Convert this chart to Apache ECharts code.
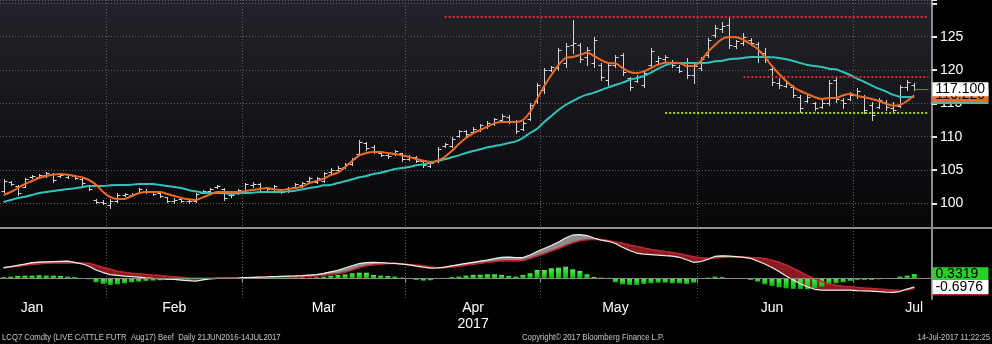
<!DOCTYPE html>
<html>
<head>
<meta charset="utf-8">
<title>LCQ7 Comdty – Live Cattle Aug17</title>
<script src="https://cdn.jsdelivr.net/npm/echarts@6.0.0/dist/echarts.min.js"></script>
<style>
  html, body { margin: 0; padding: 0; background: #000; }
  #chart { width: 992px; height: 344px; }
</style>
</head>
<body>
<div id="chart"></div>
<script>
// ---- Sessions (one bar per trading day), grouped by month ----
const sessionDays = [
  ['2017-01', [10, 11, 12, 13, 17, 18, 19, 20, 23, 24, 25, 26, 27, 30, 31]],
  ['2017-02', [1, 2, 3, 6, 7, 8, 9, 10, 13, 14, 15, 16, 17, 21, 22, 23, 24, 27, 28]],
  ['2017-03', [1, 2, 3, 6, 7, 8, 9, 10, 13, 14, 15, 16, 17, 20, 21, 22, 23, 24, 27, 28, 29, 30, 31]],
  ['2017-04', [3, 4, 5, 6, 7, 10, 11, 12, 13, 17, 18, 19, 20, 21, 24, 25, 26, 27, 28]],
  ['2017-05', [1, 2, 3, 4, 5, 8, 9, 10, 11, 12, 15, 16, 17, 18, 19, 22, 23, 24, 25, 26, 30, 31]],
  ['2017-06', [1, 2, 5, 6, 7, 8, 9, 12, 13, 14, 15, 16, 19, 20, 21, 22, 23, 26, 27, 28, 29, 30]],
  ['2017-07', [3, 5, 6, 7, 10, 11, 12, 13, 14]]
];
// empty sessions kept to the right of the last bar
const blankDays = ['2017-07-17', '2017-07-18'];

// month captions under the lower panel and the session each sits on
const monthLabelDays = ['2017-01-17', '2017-02-14', '2017-03-16', '2017-04-17', '2017-05-15', '2017-06-15', '2017-07-14'];
const monthLabelText = ['Jan', 'Feb', 'Mar', 'Apr\n2017', 'May', 'Jun', 'Jul'];

// ---- Daily bars (Jan .. Jul rows) ----
const opens = [].concat(
  [101.9, 103.2, 102.6, 102.5, 103.9, 104.0, 104.2, 104.4, 104.1, 104.0, 104.1, 103.6, 102.6, 100.5, 100.2],
  [99.8, 100.4, 101.3, 101.3, 101.6, 101.9, 101.7, 101.5, 100.9, 100.3, 100.6, 100.3, 100.4, 101.6, 101.8, 102.4, 102.2, 101.2, 101.5],
  [101.8, 102.8, 102.9, 102.3, 102.2, 101.9, 101.8, 102.4, 102.8, 103.3, 103.2, 103.4, 104.7, 105.0, 105.4, 105.9, 107.4, 109.0, 108.5, 107.6, 107.2, 107.4, 107.5],
  [106.7, 106.9, 106.3, 105.6, 106.3, 108.6, 108.6, 110.1, 110.8, 110.7, 111.0, 111.5, 111.9, 112.5, 113.0, 112.2, 111.2, 112.7, 115.3],
  [117.0, 120.0, 120.3, 121.0, 123.8, 123.8, 122.0, 121.0, 120.8, 118.5, 120.7, 122.3, 118.8, 118.4, 117.8, 120.7, 121.3, 121.6, 121.2, 120.5, 121.0, 119.3],
  [120.3, 122.2, 125.2, 126.2, 126.8, 123.6, 124.0, 124.5, 123.9, 122.5, 120.2, 118.0, 117.6, 117.5, 116.0, 115.4, 115.0, 114.5, 115.0, 118.5, 115.5, 115.7],
  [116.2, 116.0, 114.8, 114.5, 115.2, 114.3, 114.6, 117.5, 117.8]
);
const highs = [].concat(
  [103.65, 103.35, 102.75, 103.8, 104.25, 104.4, 104.7, 104.55, 104.4, 104.4, 104.25, 103.8, 102.75, 100.65, 100.5],
  [100.65, 101.55, 101.55, 101.55, 102.3, 102.15, 101.85, 101.7, 100.95, 100.8, 100.8, 100.5, 101.55, 102.0, 102.3, 102.75, 102.3, 101.55, 102.15],
  [103.05, 103.2, 103.05, 102.45, 102.75, 102.0, 102.45, 103.05, 103.2, 103.95, 103.95, 104.7, 105.3, 105.6, 106.05, 106.8, 109.5, 109.2, 108.75, 107.7, 107.55, 108.0, 107.55],
  [107.25, 107.1, 106.5, 106.2, 108.45, 109.05, 109.95, 111.0, 111.0, 111.45, 111.9, 112.35, 112.8, 113.4, 113.25, 112.5, 112.35, 115.05, 118.05],
  [120.3, 120.6, 123.3, 124.05, 127.5, 124.05, 123.45, 124.95, 121.05, 121.05, 122.25, 122.55, 118.95, 119.25, 120.0, 123.3, 122.1, 122.25, 121.5, 120.75, 121.8, 121.05],
  [122.0, 124.8, 126.75, 127.2, 127.95, 124.5, 125.55, 124.8, 124.2, 123.3, 120.45, 118.8, 118.5, 117.75, 116.25, 116.55, 115.2, 115.5, 118.5, 118.8, 115.8, 116.7],
  [117.3, 116.25, 115.2, 115.8, 115.5, 115.2, 117.75, 118.5, 118.05]
);
const lows = [].concat(
  [101.7, 102.75, 101.25, 102.45, 103.8, 103.8, 103.95, 103.2, 103.95, 103.8, 103.65, 102.75, 102.0, 100.05, 99.9],
  [99.3, 100.2, 101.1, 101.1, 101.55, 101.55, 101.25, 100.95, 100.2, 100.05, 100.2, 100.05, 100.2, 101.55, 101.55, 102.3, 100.5, 100.95, 101.4],
  [101.55, 102.45, 102.0, 102.0, 102.0, 101.55, 101.7, 102.3, 102.45, 103.2, 103.05, 103.2, 104.55, 104.85, 105.3, 105.75, 107.25, 108.0, 107.55, 107.1, 106.8, 107.25, 106.35],
  [106.5, 106.2, 105.45, 105.45, 106.2, 108.45, 108.45, 109.95, 110.1, 110.55, 110.85, 111.3, 111.75, 112.35, 112.05, 110.55, 111.0, 112.5, 115.05],
  [116.55, 119.85, 120.0, 120.45, 122.55, 121.2, 120.75, 120.45, 118.5, 117.75, 120.45, 119.25, 117.0, 118.2, 117.45, 120.45, 121.05, 121.2, 120.45, 119.7, 118.8, 118.05],
  [120.0, 121.95, 124.95, 125.7, 123.3, 123.3, 123.75, 123.75, 121.2, 121.2, 117.75, 117.3, 117.45, 115.95, 113.7, 115.2, 114.0, 114.3, 114.75, 115.2, 114.3, 115.5],
  [115.8, 113.55, 112.5, 114.3, 114.0, 113.7, 114.45, 117.0, 117.0]
);
const closes = [].concat(
  [103.3, 102.9, 101.5, 103.6, 104.1, 104.3, 104.6, 103.5, 104.2, 104.3, 103.8, 103.0, 102.2, 100.2, 100.0],
  [100.4, 101.3, 101.4, 101.4, 102.1, 101.8, 101.4, 101.1, 100.4, 100.5, 100.4, 100.4, 101.4, 101.9, 102.1, 102.6, 100.8, 101.3, 102.0],
  [102.9, 102.9, 102.3, 102.2, 102.6, 101.7, 102.3, 102.9, 103.0, 103.8, 103.8, 104.5, 105.0, 105.3, 105.9, 106.6, 109.2, 108.3, 107.7, 107.3, 107.1, 107.8, 106.6],
  [107.0, 106.4, 105.7, 106.0, 108.2, 108.9, 109.7, 110.8, 110.4, 111.2, 111.7, 112.0, 112.6, 113.1, 112.4, 110.9, 112.0, 114.8, 117.8],
  [120.0, 120.4, 123.0, 123.6, 124.0, 121.6, 123.0, 124.5, 119.0, 120.7, 122.0, 119.7, 117.5, 119.0, 119.6, 122.8, 121.8, 121.9, 120.7, 119.9, 119.3, 120.6],
  [121.7, 124.5, 126.3, 126.6, 123.8, 124.3, 125.0, 124.0, 122.8, 121.6, 118.2, 117.8, 118.0, 116.3, 114.3, 116.0, 114.3, 115.0, 118.0, 115.6, 115.0, 116.3],
  [116.8, 114.0, 113.2, 115.5, 114.4, 114.0, 117.4, 118.2, 117.1]
);

// ---- Moving averages ----
const maFast = [].concat(
  [101.25, 101.7, 102.3, 102.9, 103.35, 103.8, 104.1, 104.3, 104.4, 104.3, 104.1, 103.9, 103.5, 102.8, 101.7],
  [100.95, 100.65, 100.65, 101.1, 101.5, 101.7, 101.7, 101.7, 101.4, 101.1, 100.8, 100.6, 100.5, 100.9, 101.3, 101.7, 101.7, 101.7, 101.7],
  [101.85, 102.0, 102.15, 102.3, 102.1, 102.0, 102.15, 102.3, 102.5, 103.05, 103.35, 103.7, 104.25, 104.6, 105.45, 106.35, 107.2, 107.55, 107.7, 107.7, 107.55, 107.4, 107.2],
  [106.95, 106.65, 106.4, 106.2, 106.4, 106.95, 107.85, 108.9, 109.8, 110.5, 111.0, 111.5, 112.0, 112.2, 112.2, 112.2, 112.5, 113.7, 115.65],
  [117.6, 119.25, 120.75, 121.8, 121.95, 122.25, 122.6, 122.1, 121.5, 121.05, 121.0, 120.3, 119.7, 119.55, 119.8, 120.3, 120.8, 121.1, 121.1, 121.05, 120.6, 120.6],
  [121.35, 122.7, 123.75, 124.65, 124.95, 124.9, 124.5, 123.9, 123.15, 121.95, 120.6, 119.4, 118.35, 117.45, 116.85, 116.4, 115.95, 115.65, 115.8, 115.8, 116.2, 116.4],
  [116.1, 115.9, 115.65, 115.35, 114.95, 114.65, 114.75, 115.35, 116.22]
);
const maSlow = [].concat(
  [100.2, 100.5, 100.8, 101.0, 101.25, 101.55, 101.7, 101.85, 102.0, 102.15, 102.25, 102.4, 102.6, 102.6, 102.6],
  [102.7, 102.75, 102.75, 102.8, 102.9, 102.9, 102.9, 102.75, 102.6, 102.45, 102.3, 102.0, 101.8, 101.6, 101.55, 101.55, 101.5, 101.4, 101.5],
  [101.55, 101.6, 101.7, 101.7, 101.7, 101.7, 101.8, 101.9, 102.1, 102.3, 102.45, 102.7, 102.75, 103.05, 103.3, 103.6, 103.9, 104.1, 104.4, 104.6, 104.85, 105.15, 105.3],
  [105.45, 105.7, 105.85, 106.05, 106.35, 106.6, 106.9, 107.2, 107.55, 107.85, 108.1, 108.4, 108.6, 108.8, 109.05, 109.3, 109.8, 110.55, 111.2],
  [112.2, 113.1, 114.0, 114.75, 115.35, 115.9, 116.3, 116.6, 117.0, 117.4, 117.75, 118.1, 118.5, 118.8, 119.1, 119.6, 120.2, 120.7, 121.0, 121.05, 121.05, 121.05],
  [121.05, 121.1, 121.3, 121.4, 121.6, 121.7, 121.8, 121.95, 121.95, 121.95, 121.9, 121.8, 121.6, 121.35, 121.05, 120.75, 120.6, 120.45, 120.2, 120.1, 119.7, 119.25],
  [118.7, 118.2, 117.7, 117.2, 116.8, 116.3, 116.0, 115.95, 115.95]
);

// ---- MACD panel ----
const macdLine = [].concat(
  [0.85, 0.94, 1.04, 1.14, 1.26, 1.30, 1.32, 1.34, 1.36, 1.38, 1.28, 1.16, 0.96, 0.66, 0.46],
  [0.30, 0.24, 0.18, 0.14, 0.09, 0.04, 0.00, -0.02, -0.06, -0.09, -0.14, -0.18, -0.22, -0.12, -0.04, -0.01, 0.00, 0.00, 0.02],
  [0.05, 0.08, 0.10, 0.11, 0.13, 0.15, 0.17, 0.19, 0.22, 0.26, 0.30, 0.40, 0.52, 0.63, 0.82, 1.00, 1.18, 1.26, 1.27, 1.26, 1.22, 1.19, 1.14],
  [1.08, 0.98, 0.89, 0.82, 0.84, 0.90, 1.00, 1.10, 1.19, 1.28, 1.37, 1.46, 1.58, 1.68, 1.69, 1.66, 1.66, 1.86, 2.14],
  [2.38, 2.62, 2.90, 3.22, 3.46, 3.50, 3.42, 3.22, 3.06, 2.96, 2.78, 2.48, 2.22, 2.02, 1.94, 1.90, 1.86, 1.81, 1.77, 1.68, 1.48, 1.28],
  [1.34, 1.51, 1.76, 1.80, 1.77, 1.74, 1.67, 1.59, 1.38, 1.14, 0.86, 0.54, 0.18, -0.14, -0.43, -0.68, -0.88, -0.94, -0.94, -0.94, -0.94, -0.95],
  [-0.98, -1.00, -1.03, -1.06, -1.10, -1.12, -1.06, -0.86, -0.6976]
);
const signalLine = [].concat(
  [0.82, 0.90, 0.97, 1.04, 1.10, 1.16, 1.21, 1.22, 1.22, 1.22, 1.22, 1.22, 1.20, 1.04, 0.86],
  [0.72, 0.57, 0.48, 0.41, 0.36, 0.31, 0.26, 0.22, 0.17, 0.13, 0.08, 0.03, 0.00, 0.00, 0.00, 0.00, 0.00, 0.01, 0.02],
  [0.03, 0.04, 0.06, 0.07, 0.09, 0.10, 0.11, 0.12, 0.14, 0.16, 0.20, 0.25, 0.32, 0.38, 0.49, 0.66, 0.86, 1.00, 1.08, 1.14, 1.18, 1.19, 1.16],
  [1.11, 1.07, 1.00, 0.90, 0.85, 0.85, 0.90, 0.96, 1.05, 1.13, 1.21, 1.28, 1.34, 1.40, 1.41, 1.40, 1.42, 1.58, 1.78],
  [1.96, 2.18, 2.38, 2.62, 2.84, 3.00, 3.08, 3.13, 3.10, 3.02, 2.90, 2.80, 2.66, 2.54, 2.42, 2.30, 2.22, 2.14, 2.06, 1.96, 1.84, 1.72],
  [1.64, 1.61, 1.63, 1.66, 1.70, 1.72, 1.70, 1.66, 1.63, 1.58, 1.44, 1.28, 1.06, 0.78, 0.50, 0.22, -0.04, -0.26, -0.44, -0.55, -0.63, -0.68],
  [-0.73, -0.78, -0.82, -0.86, -0.90, -0.94, -0.97, -0.92, -0.82]
);
const histogram = [].concat(
  [0.08, 0.13, 0.19, 0.21, 0.21, 0.24, 0.21, 0.21, 0.19, 0.13, 0.08, -0.02, -0.08, -0.32, -0.45],
  [-0.53, -0.48, -0.40, -0.32, -0.27, -0.21, -0.19, -0.16, -0.13, -0.13, -0.13, -0.11, -0.08, -0.05, -0.03, 0.02, 0.02, 0.03, 0.03],
  [0.03, 0.04, 0.04, 0.04, 0.04, 0.05, 0.05, 0.06, 0.07, 0.05, 0.08, 0.13, 0.21, 0.27, 0.32, 0.40, 0.45, 0.45, 0.27, 0.21, 0.19, 0.13, 0.05],
  [-0.03, -0.13, -0.19, -0.16, -0.05, 0.03, 0.08, 0.13, 0.21, 0.27, 0.29, 0.32, 0.32, 0.27, 0.19, 0.13, 0.27, 0.40, 0.67],
  [0.67, 0.80, 0.85, 0.93, 0.72, 0.59, 0.32, 0.11, 0.05, 0.03, -0.32, -0.48, -0.53, -0.53, -0.45, -0.40, -0.35, -0.35, -0.40, -0.40, -0.45, -0.35],
  [-0.05, 0.05, 0.13, 0.08, 0.02, 0.01, -0.01, -0.13, -0.27, -0.48, -0.61, -0.72, -0.80, -0.85, -0.85, -0.88, -0.80, -0.67, -0.48, -0.40, -0.32, -0.21],
  [-0.13, -0.13, -0.13, -0.08, -0.05, -0.01, 0.13, 0.21, 0.3319]
);

// ---- Drawn horizontal levels (start session, price) ----
const levelFrom = ['2017-04-10', '2017-06-09', '2017-05-24'];
const levelValue = [128.0, 118.95, 113.6];

// ---- Axis ranges and tick labels ----
const priceMin = 96.3, priceMax = 130.5;
const priceTickLabels = [100, 105, 110, 115, 120, 125];
const macdMin = -1.656, macdMax = 4.024;

const footerLeft = 'LCQ7 Comdty (LIVE CATTLE FUTR  Aug17) Beef  Daily 21JUN2016-14JUL2017';
const footerMid = 'Copyright\u00A9 2017 Bloomberg Finance L.P.';
const footerRight = '14-Jul-2017 11:22:25';

// ---------------------------------------------------------------
const FONT = '"Liberation Sans", Arial, Helvetica, sans-serif';
const BAR_COLOR = '#d4d4d4';
const FAST_COLOR = '#ef6a22';
const SLOW_COLOR = '#32c2ba';
const MACD_COLOR = '#ececec';
const SIGNAL_COLOR = '#c0262d';
const HIST_COLOR = '#26d226';
const SPREAD_UP = '#8d8d8d';
const SPREAD_DOWN = '#8a1c22';
const GRID_DOTS = { color: '#5e5e5e', type: [1, 2], width: 1 };
const HIDDEN_LINE = { color: 'rgba(0,0,0,0)', width: 0 };
const levelStyles = [
  { color: '#d42a3c', type: [2, 2], width: 2 },
  { color: '#d42a3c', type: [2, 2], width: 2 },
  { color: '#a6d82c', type: [2, 2], width: 2 }
];

const dates = [];
sessionDays.forEach(([month, days]) => {
  days.forEach(d => dates.push(month + '-' + String(d).padStart(2, '0')));
});
const categories = dates.concat(blankDays);
const lastIdx = dates.length - 1;
const edgeIdx = categories.length - 1;

const isMonthStart = idx => idx > 0 && idx < categories.length &&
  categories[idx].slice(0, 7) !== categories[idx - 1].slice(0, 7);
const labelIdx = monthLabelDays.map(d => categories.indexOf(d));

const ohlcData = dates.map((d, i) => [i, opens[i], highs[i], lows[i], closes[i]]);
const spreadData = [];
for (let i = 0; i < dates.length - 1; i++) {
  spreadData.push([i, macdLine[i], signalLine[i], macdLine[i + 1], signalLine[i + 1]]);
}

function drawOhlcBar(params, api) {
  const idx = api.value(0);
  const top = api.coord([idx, api.value(2)]);
  const bottom = api.coord([idx, api.value(3)]);
  const op = api.coord([idx, api.value(1)]);
  const cl = api.coord([idx, api.value(4)]);
  const x = Math.round(top[0]) + 0.5;
  const tick = 3;
  const yo = Math.round(op[1]) + 0.5;
  const yc = Math.round(cl[1]) + 0.5;
  const style = { stroke: BAR_COLOR, lineWidth: 1 };
  return {
    type: 'group',
    children: [
      { type: 'line', shape: { x1: x, y1: Math.round(top[1]), x2: x, y2: Math.round(bottom[1]) + 1 }, style },
      { type: 'line', shape: { x1: x - tick, y1: yo, x2: x, y2: yo }, style },
      { type: 'line', shape: { x1: x, y1: yc, x2: x + tick, y2: yc }, style }
    ]
  };
}

function drawSpread(params, api) {
  const i = api.value(0);
  const m0 = api.value(1), s0 = api.value(2), m1 = api.value(3), s1 = api.value(4);
  const a0 = api.coord([i, m0]), b0 = api.coord([i, s0]);
  const a1 = api.coord([i + 1, m1]), b1 = api.coord([i + 1, s1]);
  const d0 = m0 - s0, d1 = m1 - s1;
  const fillOf = d => (d >= 0 ? SPREAD_UP : SPREAD_DOWN);
  const poly = (pts, d) => ({
    type: 'polygon', shape: { points: pts },
    style: { fill: fillOf(d), stroke: fillOf(d), lineWidth: 0.6 }
  });
  if (d0 * d1 >= 0) {
    return poly([a0, a1, b1, b0], d0 + d1);
  }
  const t = d0 / (d0 - d1);
  const c = [a0[0] + (a1[0] - a0[0]) * t, a0[1] + (a1[1] - a0[1]) * t];
  return { type: 'group', children: [poly([a0, c, b0], d0), poly([c, a1, b1], d1)] };
}

function sideLabel(text, bg, fg) {
  return {
    show: true, position: 'end', distance: 4, formatter: text,
    color: fg, backgroundColor: bg, fontFamily: FONT, fontSize: 14,
    lineHeight: 14, padding: [0, 3, 0, 3], width: 50, align: 'left', opacity: 1
  };
}
function endMark(value, label, lineStyle) {
  return [
    { coord: [lastIdx, value], lineStyle: lineStyle || HIDDEN_LINE, label },
    { coord: [edgeIdx, value] }
  ];
}

const chart = echarts.init(document.getElementById('chart'), null, { renderer: 'canvas' });

chart.setOption({
  backgroundColor: '#000',
  animation: false,
  grid: [
    { left: 0, top: 0, width: 932, height: 228, containLabel: false, outerBoundsMode: 'none' },
    { left: 0, top: 228, width: 932, height: 71, containLabel: false, outerBoundsMode: 'none' }
  ],
  xAxis: [
    {
      type: 'category', gridIndex: 0, data: categories, boundaryGap: true,
      axisLine: { show: false }, axisTick: { show: false }, axisLabel: { show: false },
      splitLine: { show: true, interval: isMonthStart, lineStyle: GRID_DOTS }
    },
    {
      type: 'category', gridIndex: 1, data: categories, boundaryGap: true,
      axisLine: { show: true, lineStyle: { color: '#9c9c9c', width: 1 } },
      axisTick: { show: true, interval: isMonthStart, length: 4, lineStyle: { color: '#9c9c9c' } },
      axisLabel: {
        show: true,
        interval: idx => labelIdx.includes(idx),
        formatter: (value, idx) => monthLabelText[labelIdx.indexOf(idx)] || '',
        color: '#ffffff', fontFamily: FONT, fontSize: 14, lineHeight: 16, margin: 1
      },
      splitLine: { show: true, interval: isMonthStart, lineStyle: GRID_DOTS }
    }
  ],
  yAxis: [
    {
      type: 'value', gridIndex: 0, position: 'right', min: priceMin, max: priceMax, splitNumber: 7,
      axisLine: { show: true, lineStyle: { color: '#8c8c8c', width: 2 } },
      axisTick: { show: true, inside: false, length: 5, lineStyle: { color: '#e6e6e6', width: 2 } },
      axisLabel: {
        show: true, margin: 8, color: '#ffffff', fontFamily: FONT, fontSize: 14,
        formatter: v => (priceTickLabels.some(t => Math.abs(t - v) < 1e-6) ? String(Math.round(v)) : '')
      },
      splitLine: { show: true, lineStyle: GRID_DOTS }
    },
    {
      type: 'value', gridIndex: 1, position: 'right', min: macdMin, max: macdMax,
      axisLine: { show: true, lineStyle: { color: '#8c8c8c', width: 2 } },
      axisTick: { show: false }, axisLabel: { show: false }, splitLine: { show: false }
    }
  ],
  series: [
    // MACD / signal spread fill
    {
      type: 'custom', name: 'spread', xAxisIndex: 1, yAxisIndex: 1, z: 1,
      renderItem: drawSpread, data: spreadData,
      encode: { x: 0, y: [1, 2, 3, 4] }, silent: true
    },
    // histogram
    {
      type: 'bar', name: 'hist', xAxisIndex: 1, yAxisIndex: 1, z: 2,
      data: histogram, barWidth: 5,
      itemStyle: {
        color: new echarts.graphic.LinearGradient(0, 0, 0, 1, [
          { offset: 0, color: '#4cf04c' }, { offset: 1, color: '#12b012' }
        ])
      },
      markLine: {
        silent: true, symbol: ['none', 'none'], animation: false, z: 5,
        data: [
          { yAxis: 0, lineStyle: { color: '#8a8a8a', width: 1, type: 'solid' }, label: { show: false } },
          endMark(histogram[lastIdx], sideLabel(histogram[lastIdx].toFixed(4), HIST_COLOR, '#000'))
        ]
      }
    },
    // signal
    {
      type: 'line', name: 'signal', xAxisIndex: 1, yAxisIndex: 1, z: 3,
      data: signalLine, showSymbol: false, smooth: false,
      lineStyle: { color: SIGNAL_COLOR, width: 1.6 },
      markLine: {
        silent: true, symbol: ['none', 'none'], animation: false, z: 6,
        data: [endMark(signalLine[lastIdx], sideLabel(signalLine[lastIdx].toFixed(4), SIGNAL_COLOR, '#fff'))]
      }
    },
    // MACD
    {
      type: 'line', name: 'macd', xAxisIndex: 1, yAxisIndex: 1, z: 4,
      data: macdLine, showSymbol: false, smooth: false,
      lineStyle: { color: MACD_COLOR, width: 1.2 },
      markLine: {
        silent: true, symbol: ['none', 'none'], animation: false, z: 7,
        data: [endMark(macdLine[lastIdx], sideLabel(macdLine[lastIdx].toFixed(4), '#ffffff', '#000'))]
      }
    },
    // daily OHLC bars
    {
      type: 'custom', name: 'LCQ7', xAxisIndex: 0, yAxisIndex: 0, z: 2,
      renderItem: drawOhlcBar, data: ohlcData,
      encode: { x: 0, y: [1, 2, 3, 4] }, silent: true
    },
    // slow average + drawn levels
    {
      type: 'line', name: 'slow', xAxisIndex: 0, yAxisIndex: 0, z: 3,
      data: maSlow, showSymbol: false, smooth: 0.3,
      lineStyle: { color: SLOW_COLOR, width: 2 },
      markLine: {
        silent: true, symbol: ['none', 'none'], animation: false, z: 5,
        data: levelFrom.map((d, k) => [
          { coord: [categories.indexOf(d), levelValue[k]], lineStyle: levelStyles[k], label: { show: false } },
          { coord: [edgeIdx, levelValue[k]] }
        ]).concat([
          endMark(maSlow[lastIdx], sideLabel(maSlow[lastIdx].toFixed(3), SLOW_COLOR, '#000'))
        ])
      }
    },
    // fast average + last price
    {
      type: 'line', name: 'fast', xAxisIndex: 0, yAxisIndex: 0, z: 4,
      data: maFast, showSymbol: false, smooth: 0.3,
      lineStyle: { color: FAST_COLOR, width: 2 },
      markLine: {
        silent: true, symbol: ['none', 'none'], animation: false, z: 6,
        data: [
          endMark(maFast[lastIdx], sideLabel(maFast[lastIdx].toFixed(3), FAST_COLOR, '#000')),
          endMark(closes[lastIdx], sideLabel(closes[lastIdx].toFixed(3), '#ffffff', '#000'),
            { color: '#b0652f', width: 1, type: 'solid' })
        ]
      }
    }
  ],
  graphic: [
    {
      type: 'rect', z: -10, silent: true,
      shape: { x: 0, y: 0, width: 932, height: 228 },
      style: {
        fill: new echarts.graphic.LinearGradient(0, 0, 0, 1, [
          { offset: 0, color: '#23242b' }, { offset: 0.55, color: '#131318' }, { offset: 1, color: '#060608' }
        ])
      }
    },
    {
      type: 'rect', z: 20, silent: true,
      shape: { x: 0, y: 227, width: 992, height: 2 },
      style: { fill: '#8e8e8e' }
    },
    {
      type: 'text', x: 2, y: 338, scaleX: 0.86, silent: true,
      style: { text: footerLeft, fill: '#c6c6c6', fontFamily: FONT, fontSize: 9, verticalAlign: 'middle' }
    },
    {
      type: 'text', x: 522, y: 338, scaleX: 0.86, silent: true,
      style: { text: footerMid, fill: '#c6c6c6', fontFamily: FONT, fontSize: 9, verticalAlign: 'middle' }
    },
    {
      type: 'text', x: 990, y: 338, scaleX: 0.86, silent: true,
      style: { text: footerRight, fill: '#c6c6c6', fontFamily: FONT, fontSize: 9, align: 'right', verticalAlign: 'middle' }
    }
  ]
});
</script>
</body>
</html>
